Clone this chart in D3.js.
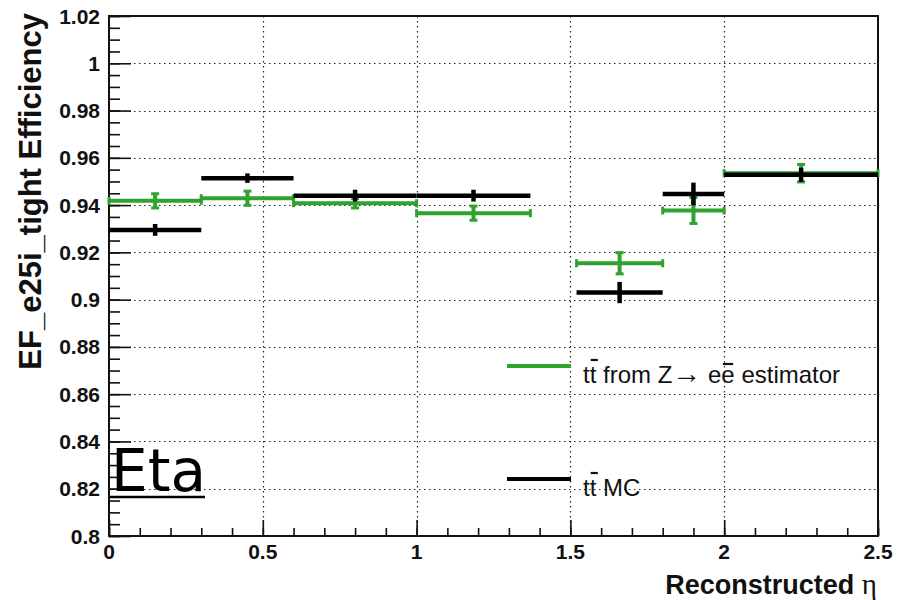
<!DOCTYPE html>
<html>
<head>
<meta charset="utf-8">
<script src="https://cdn.jsdelivr.net/npm/d3@7"></script>
<style>
  html, body { margin: 0; padding: 0; background: #fff; }
  svg { display: block; }
</style>
</head>
<body>
<svg id="chart" width="903" height="600"></svg>
<script>
// Bin edges in reconstructed eta (the 1.37-1.52 crack is empty)
const binLo = [0, 0.3, 0.6, 1.0, 1.52, 1.8, 2.0];
const binHi = [0.3, 0.6, 1.0, 1.37, 1.8, 2.0, 2.5];

// ttbar from Z->ee estimator
const estEff = [0.9418, 0.9429, 0.9408, 0.9366, 0.9154, 0.9377, 0.9535];
const estErr = [0.0030, 0.0030, 0.0020, 0.0030, 0.0045, 0.0055, 0.0037];

// ttbar MC
const mcEff = [0.9295, 0.9514, 0.9440, 0.9440, 0.9030, 0.9447, 0.9528];
const mcErr = [0.0025, 0.0020, 0.0025, 0.0025, 0.0045, 0.0048, 0.0030];

const yTicks = [0.8, 0.82, 0.84, 0.86, 0.88, 0.9, 0.92, 0.94, 0.96, 0.98, 1.0, 1.02];
const xTicks = [0, 0.5, 1, 1.5, 2, 2.5];

const GREEN = "#2fa22f";
const svg = d3.select("#chart");

const frame = { left: 109, right: 878, top: 16, bottom: 536 };
const x = d3.scaleLinear().domain([0, 2.5]).range([frame.left, frame.right]);
const y = d3.scaleLinear().domain([0.8, 1.02]).range([frame.bottom, frame.top]);

const fmt = v => String(+v.toFixed(2));

// dotted grid
const grid = svg.append("g");
grid.selectAll("line.gy").data(yTicks.slice(1, -1)).join("line")
  .attr("x1", frame.left).attr("x2", frame.right)
  .attr("y1", d => Math.round(y(d)) + 0.5).attr("y2", d => Math.round(y(d)) + 0.5)
  .attr("stroke", "#222").attr("stroke-width", 1.2).attr("stroke-dasharray", "1.5,3.5");
grid.selectAll("line.gx").data(xTicks.slice(1, -1)).join("line")
  .attr("y1", frame.top).attr("y2", frame.bottom)
  .attr("x1", d => Math.round(x(d)) + 0.5).attr("x2", d => Math.round(x(d)) + 0.5)
  .attr("stroke", "#222").attr("stroke-width", 1.2).attr("stroke-dasharray", "1.5,3.5");

// axes with inward ticks (major + minor)
const yMinor = d3.range(0, 45).map(i => 0.8 + i * 0.005).filter(v => v <= 1.0201);
const xMinor = d3.range(0, 26).map(i => i * 0.1);

const yAxisMinor = d3.axisRight(y).tickValues(yMinor).tickSize(11).tickFormat("");
const yAxisMajor = d3.axisRight(y).tickValues(yTicks).tickSize(22).tickFormat("");
const xAxisMinor = d3.axisTop(x).tickValues(xMinor).tickSize(8).tickFormat("");
const xAxisMajor = d3.axisTop(x).tickValues(xTicks).tickSize(16).tickFormat("");

[yAxisMinor, yAxisMajor].forEach(a => {
  const g = svg.append("g").attr("transform", `translate(${frame.left},0)`).call(a);
  g.select(".domain").remove();
  g.selectAll(".tick line").attr("stroke", "#111").attr("stroke-width", 1.6);
});
[xAxisMinor, xAxisMajor].forEach(a => {
  const g = svg.append("g").attr("transform", `translate(0,${frame.bottom})`).call(a);
  g.select(".domain").remove();
  g.selectAll(".tick line").attr("stroke", "#111").attr("stroke-width", 1.6);
});

// frame box
svg.append("rect")
  .attr("x", frame.left).attr("y", frame.top)
  .attr("width", frame.right - frame.left).attr("height", frame.bottom - frame.top)
  .attr("fill", "none").attr("stroke", "#111").attr("stroke-width", 2);

// tick labels
const labelFont = "'Liberation Sans', Arial, Helvetica, sans-serif";
svg.append("g").selectAll("text").data(yTicks).join("text")
  .attr("x", 100).attr("y", d => y(d)).attr("dy", "0.36em")
  .attr("text-anchor", "end")
  .style("font-family", labelFont).style("font-weight", "bold").style("font-size", "21px")
  .attr("fill", "#111").text(fmt);
svg.append("g").selectAll("text").data(xTicks).join("text")
  .attr("x", d => x(d)).attr("y", 559)
  .attr("text-anchor", "middle")
  .style("font-family", labelFont).style("font-weight", "bold").style("font-size", "21px")
  .attr("fill", "#111").text(fmt);

// axis titles
svg.append("text")
  .attr("transform", "translate(41,13) rotate(-90)")
  .attr("text-anchor", "end")
  .style("font-family", labelFont).style("font-weight", "bold").style("font-size", "31px")
  .attr("fill", "#111").text("EF_e25i_tight Efficiency");
const xt = svg.append("text")
  .attr("x", 877).attr("y", 594).attr("text-anchor", "end")
  .style("font-family", labelFont).style("font-size", "27px").attr("fill", "#111");
xt.append("tspan").style("font-weight", "bold").text("Reconstructed ");
xt.append("tspan").style("font-family", "'Liberation Serif', serif").style("font-size", "29px").text("η");

// error-bar series
function drawSeries(eff, err, color, caps, lw) {
  const g = svg.append("g");
  const idx = d3.range(eff.length);
  g.selectAll("line.h").data(idx).join("line")
    .attr("x1", i => x(binLo[i])).attr("x2", i => x(binHi[i]))
    .attr("y1", i => y(eff[i])).attr("y2", i => y(eff[i]))
    .attr("stroke", color).attr("stroke-width", lw);
  g.selectAll("line.v").data(idx).join("line")
    .attr("x1", i => x((binLo[i] + binHi[i]) / 2)).attr("x2", i => x((binLo[i] + binHi[i]) / 2))
    .attr("y1", i => y(eff[i] - err[i])).attr("y2", i => y(eff[i] + err[i]))
    .attr("stroke", color).attr("stroke-width", lw);
  if (caps) {
    const c = 4;
    idx.forEach(i => {
      const xc = x((binLo[i] + binHi[i]) / 2), yc = y(eff[i]);
      [binLo[i], binHi[i]].forEach(b => {
        g.append("line").attr("x1", x(b)).attr("x2", x(b))
          .attr("y1", yc - c).attr("y2", yc + c)
          .attr("stroke", color).attr("stroke-width", 3);
      });
      [eff[i] - err[i], eff[i] + err[i]].forEach(v => {
        g.append("line").attr("x1", xc - c).attr("x2", xc + c)
          .attr("y1", y(v)).attr("y2", y(v))
          .attr("stroke", color).attr("stroke-width", 3);
      });
    });
  }
}
drawSeries(estEff, estErr, GREEN, true, 4);
drawSeries(mcEff, mcErr, "#000", false, 4.5);

// legend
const legend = svg.append("g");
legend.append("line").attr("x1", 507).attr("x2", 571).attr("y1", 366).attr("y2", 366)
  .attr("stroke", GREEN).attr("stroke-width", 4);
legend.append("line").attr("x1", 507).attr("x2", 571).attr("y1", 479).attr("y2", 479)
  .attr("stroke", "#000").attr("stroke-width", 4);

// legend text with short bars over the antiparticle letters
function legendText(yBase, parts) {
  const t = legend.append("text").attr("x", 583).attr("y", yBase)
    .style("font-family", labelFont).style("font-size", "24px").attr("fill", "#111");
  const barred = [];
  let pos = 0;
  parts.forEach(p => {
    const s = t.append("tspan").text(p.s);
    if (p.size) s.style("font-size", p.size);
    if (p.bar) barred.push({ ci: pos, lift: p.bar });
    pos += p.s.length;
  });
  const node = t.node();
  barred.forEach(({ ci, lift }) => {
    const ext = node.getExtentOfChar(ci);
    const wide = ext.width > 9;
    legend.append("line")
      .attr("x1", ext.x + (wide ? 1.5 : 1)).attr("x2", ext.x + ext.width + (wide ? -1.5 : 1.5))
      .attr("y1", yBase - lift).attr("y2", yBase - lift)
      .attr("stroke", "#111").attr("stroke-width", 2.2);
  });
}
legendText(383, [
  { s: "t" }, { s: "t", bar: 23 }, { s: " from Z" }, { s: "→", size: "29px" },
  { s: " e" }, { s: "e", bar: 19 }, { s: " estimator" }
]);
legendText(496, [{ s: "t" }, { s: "t", bar: 23 }, { s: " MC" }]);

// "Eta" tag with a thin underline
svg.append("text").attr("x", 111).attr("y", 491)
  .style("font-family", "'DejaVu Sans', sans-serif").style("font-size", "58px")
  .attr("fill", "#000").text("Eta");
svg.append("line").attr("x1", 110).attr("x2", 205).attr("y1", 497).attr("y2", 497)
  .attr("stroke", "#000").attr("stroke-width", 2.5);
</script>
</body>
</html>
